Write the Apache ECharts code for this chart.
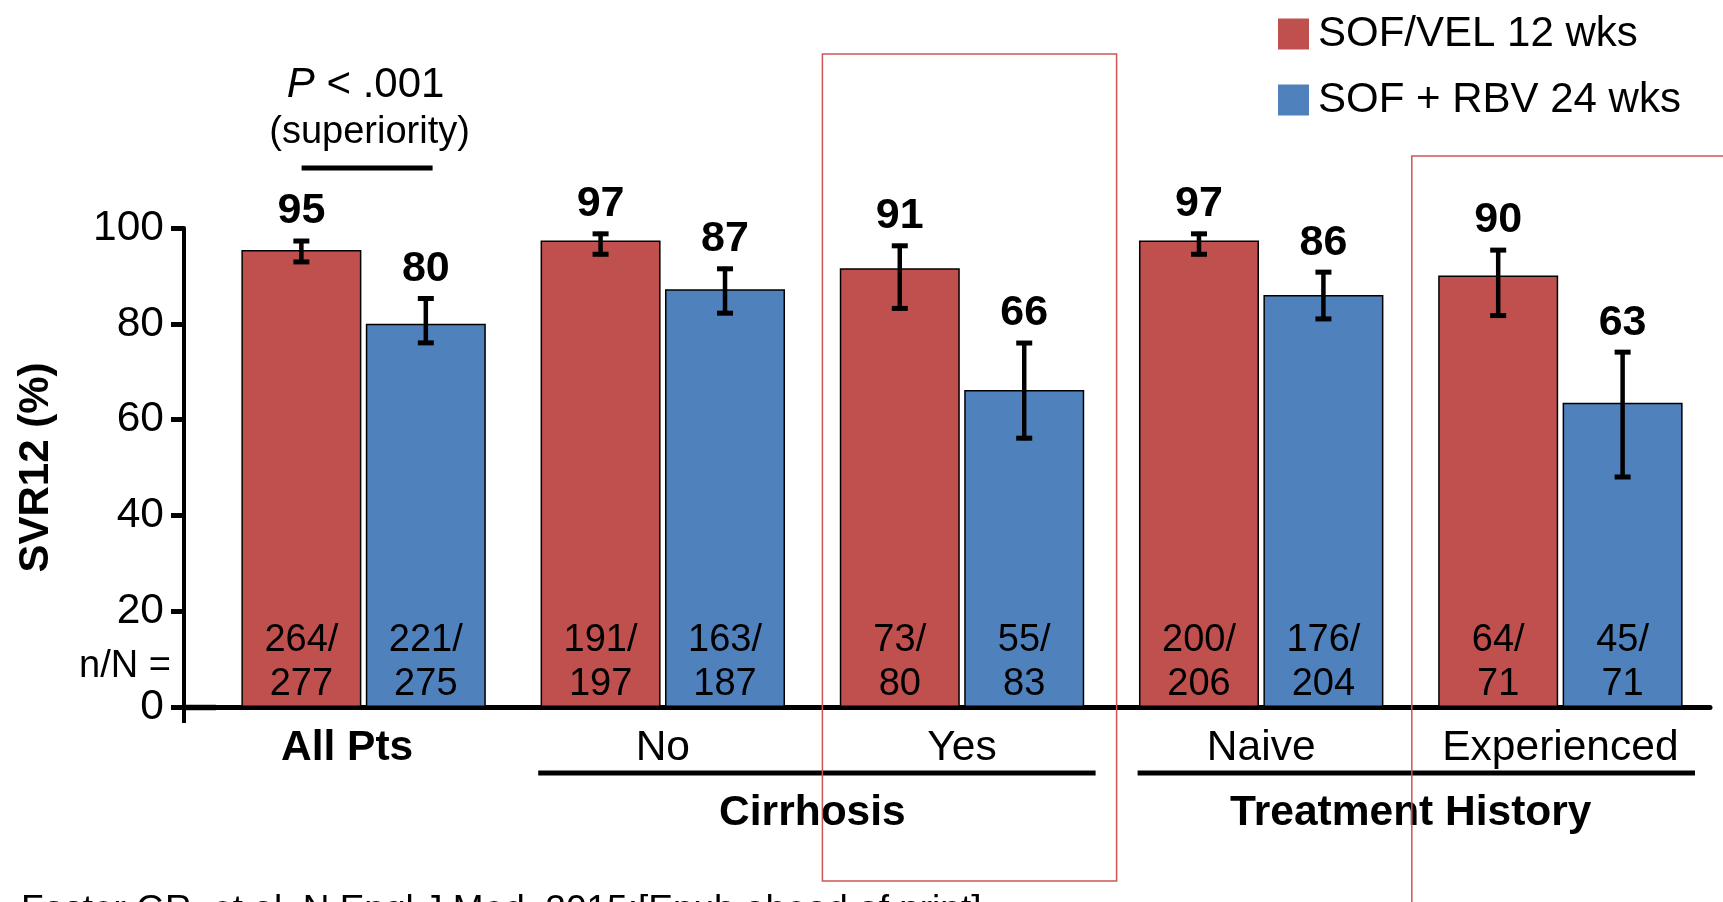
<!DOCTYPE html>
<html>
<head>
<meta charset="utf-8">
<title>SVR12 by subgroup</title>
<script src="https://cdn.jsdelivr.net/npm/echarts@6/dist/echarts.min.js"></script>
<style>
  html, body { margin: 0; padding: 0; background: #fff; }
  #chart { width: 1723px; height: 902px; }
</style>
</head>
<body>
<div id="chart"></div>
<script>
// subgroups along the x axis
const categories = ["All Pts", "No", "Yes", "Naive", "Experienced"];
const seriesNames = ["SOF/VEL 12 wks", "SOF + RBV 24 wks"];

// SVR12 (%) bar heights
const sofVel = [95.4, 97.4, 91.6, 97.4, 90.1];
const sofRbv = [80.0, 87.2, 66.2, 86.0, 63.5];
// printed values above the bars
const sofVelLabels = [95, 97, 91, 97, 90];
const sofRbvLabels = [80, 87, 66, 86, 63];
// error bar ends
const sofVelLow = [92.5, 94.1, 82.8, 94.1, 81.3];
const sofVelHigh = [97.7, 99.2, 96.7, 99.2, 95.8];
const sofRbvLow = [75.6, 81.8, 55.7, 80.6, 47.6];
const sofRbvHigh = [85.7, 91.9, 76.4, 91.2, 74.5];
// n/N inside the bars
const sofVelN = [264, 191, 73, 200, 64];
const sofVelD = [277, 197, 80, 206, 71];
const sofRbvN = [221, 163, 55, 176, 45];
const sofRbvD = [275, 187, 83, 204, 71];
// y axis ticks
const yMin = 0, yMax = 100, yStep = 20;

const FONT = '"Liberation Sans", Arial, sans-serif';
const RED = "#C0504D";
const BLUE = "#4F81BD";
const BAR_W = 120;
const BAR_GAP = 0.037;
const FS = 42.5; // axis / title text size

const chart = echarts.init(document.getElementById("chart"));

// error bar + value label, side -1 = left bar, +1 = right bar
const errorBars = (side) => (params, api) => {
  const x = api.value(0);
  const lo = api.coord([x, api.value(1)]);
  const hi = api.coord([x, api.value(2)]);
  const cx = lo[0] + side * (BAR_W + BAR_W * BAR_GAP) / 2;
  const cap = 8;
  const stroke = { stroke: "#000", lineWidth: 5 };
  return {
    type: "group",
    children: [
      { type: "line", shape: { x1: cx, y1: hi[1], x2: cx, y2: lo[1] }, style: { stroke: "#000", lineWidth: 4.5 } },
      { type: "line", shape: { x1: cx - cap, y1: hi[1] + 2, x2: cx + cap, y2: hi[1] + 2 }, style: stroke },
      { type: "line", shape: { x1: cx - cap, y1: lo[1] - 2, x2: cx + cap, y2: lo[1] - 2 }, style: stroke },
      {
        type: "text",
        x: cx,
        y: hi[1] - 6,
        style: {
          text: String(api.value(3)),
          fontSize: 43,
          fontWeight: "bold",
          fontFamily: FONT,
          fill: "#000",
          align: "center",
          verticalAlign: "bottom",
        },
      },
    ],
  };
};

const barSeries = (name, color, values, nums, dens) => ({
  name: name,
  type: "bar",
  barWidth: BAR_W,
  barGap: BAR_GAP * 100 + "%",
  data: values,
  itemStyle: { color: color, borderColor: "#000", borderWidth: 1.5 },
  label: {
    show: true,
    position: "insideBottom",
    distance: 0,
    formatter: (p) => nums[p.dataIndex] + "/\n" + dens[p.dataIndex],
    fontSize: 38,
    lineHeight: 44,
    fontFamily: FONT,
    color: "#000",
  },
});

const errSeries = (low, high, labels, side) => ({
  type: "custom",
  renderItem: errorBars(side),
  encode: { x: 0, y: [1, 2] },
  data: categories.map((c, i) => [i, low[i], high[i], labels[i]]),
  z: 5,
});

chart.setOption({
  animation: false,
  textStyle: { fontFamily: FONT },
  legend: {
    data: seriesNames,
    orient: "vertical",
    left: 1273,
    top: 8,
    itemWidth: 31,
    itemHeight: 31,
    itemGap: 24,
    icon: "rect",
    itemStyle: { borderWidth: 0 },
    textStyle: { fontSize: 42, color: "#000", padding: [0, 0, 0, 4], fontFamily: FONT },
  },
  grid: { left: 214, right: 13, top: 228, bottom: 195, containLabel: false },
  xAxis: {
    type: "category",
    data: categories,
    axisLine: { lineStyle: { color: "#000", width: 5 } },
    axisTick: { length: 14, lineStyle: { color: "#000", width: 4 }, interval: (i) => i !== 0 },
    axisLabel: {
      interval: 0,
      hideOverlap: false,
      fontSize: FS,
      color: "#000",
      margin: 20,
      fontFamily: FONT,
      formatter: (v) => (v === "All Pts" ? "{b|" + v + "}" : v),
      rich: { b: { fontSize: FS, fontWeight: "bold", color: "#000", fontFamily: FONT, padding: [0, 33, 0, 0] } },
    },
  },
  yAxis: {
    type: "value",
    min: yMin,
    max: yMax,
    interval: yStep,
    offset: 30,
    name: "SVR12 (%)",
    nameLocation: "middle",
    nameGap: 127,
    nameTextStyle: { fontSize: 42, fontWeight: "bold", color: "#000", fontFamily: FONT },
    axisLine: { show: true, lineStyle: { color: "#000", width: 4 } },
    axisTick: { show: true, length: 13, lineStyle: { color: "#000", width: 5 } },
    axisLabel: { fontSize: FS, color: "#000", margin: 20, fontFamily: FONT },
    splitLine: { show: false },
  },
  series: [
    barSeries(seriesNames[0], RED, sofVel, sofVelN, sofVelD),
    barSeries(seriesNames[1], BLUE, sofRbv, sofRbvN, sofRbvD),
    errSeries(sofVelLow, sofVelHigh, sofVelLabels, -1),
    errSeries(sofRbvLow, sofRbvHigh, sofRbvLabels, 1),
  ],
});

// annotations placed from the axes
const xc = (i) => chart.convertToPixel({ xAxisIndex: 0 }, i);
const y0 = chart.convertToPixel({ yAxisIndex: 0 }, 0);
const band = xc(1) - xc(0);
const gridLeft = xc(0) - band / 2;
const yAxisX = gridLeft - 30;
const catStart = (i) => xc(i) - band / 2;
const catEnd = (i) => xc(i) + band / 2;

const txt = (x, y, text, size, extra) => ({
  type: "text",
  x: x,
  y: y,
  z: 50,
  style: Object.assign(
    { text: text, fontSize: size, fontFamily: FONT, fill: "#000", align: "center", verticalAlign: "middle" },
    extra || {}
  ),
});
const line = (x1, y1, x2, y2, w, color) => ({
  type: "line",
  z: 50,
  shape: { x1: x1, y1: y1, x2: x2, y2: y2 },
  style: { stroke: color || "#000", lineWidth: w },
});
const box = (x, y, w, h) => ({
  type: "rect",
  z: 100,
  shape: { x: x, y: y, width: w, height: h },
  style: { fill: null, stroke: "#CC5555", lineWidth: 1.5 },
});

chart.setOption({
  graphic: [
    // x axis line continues back to the y axis
    line(yAxisX - 2, y0 + 0.5, gridLeft + 2, y0 + 0.5, 5.5),
    line(yAxisX, y0, yAxisX, y0 + 16, 4),
    // significance bracket
    txt(xc(0) + 2, 85, "{i|P} < .001", 42, { rich: { i: { fontStyle: "italic", fontSize: 42, fontFamily: FONT } } }),
    txt(xc(0) + 6, 133, "(superiority)", 38),
    line(xc(0) - 62, 168, xc(0) + 69, 168, 5),
    // n/N caption
    txt(yAxisX - 13, 667, "n/N =", 38, { align: "right" }),
    // group lines and titles
    line(catStart(1) + 25, 773, catEnd(2) - 16, 773, 5),
    line(catStart(3) + 26, 773, catEnd(4) - 15, 773, 5),
    txt((xc(1) + xc(2)) / 2, 813, "Cirrhosis", FS, { fontWeight: "bold" }),
    txt((xc(3) + xc(4)) / 2, 813, "Treatment History", FS, { fontWeight: "bold" }),
    // highlight boxes
    box(catStart(2) + 10, 54, band - 5, 827),
    box(catStart(4) + 1, 156, 400, 800),
    // source
    txt(21, 892, "Foster GR, et al. N Engl J Med. 2015;[Epub ahead of print].", 37, { align: "left", verticalAlign: "top" }),
  ],
});
</script>
</body>
</html>
